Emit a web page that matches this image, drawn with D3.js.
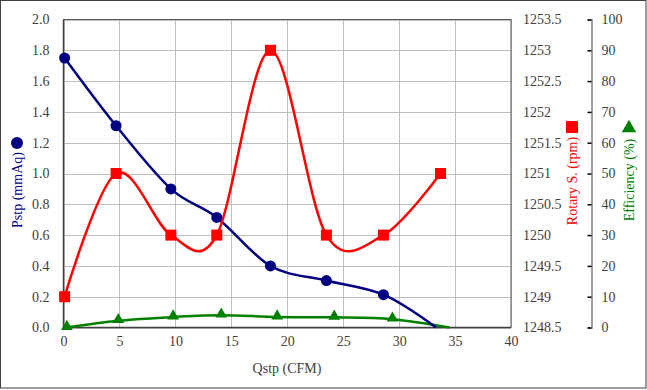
<!DOCTYPE html>
<html><head><meta charset="utf-8">
<script src="https://cdn.jsdelivr.net/npm/d3@7"></script>
<style>body{margin:0;background:#fff}svg{display:block}svg text{font-family:"Liberation Serif","Times New Roman",serif !important;font-size:14px}</style>
</head><body>
<svg id="c" width="647" height="390"></svg>
<script>
// ---- data ----
const qPstp = [0.1, 4.7, 9.6, 13.7, 18.5, 23.5, 28.6, 33.3];
const pstp  = [1.75, 1.31, 0.90, 0.715, 0.40, 0.305, 0.213, 0.0];
const pstpMarker = [true, true, true, true, true, true, true, false];

const qRot  = [0.1, 4.7, 9.6, 13.7, 18.5, 23.5, 28.6, 33.7];
const rotary = [1249, 1251, 1250, 1250, 1253, 1250, 1250, 1251];

const qEff  = [0.3, 4.9, 9.8, 14.1, 19.1, 24.2, 29.4, 34.5];
const eff   = [0.0, 2.2, 3.4, 4.0, 3.4, 3.3, 2.7, 0.0];
const effMarker = [true, true, true, true, true, true, true, false];

const xTicks = [0, 5, 10, 15, 20, 25, 30, 35, 40];
const pTicks = [0, 0.2, 0.4, 0.6, 0.8, 1.0, 1.2, 1.4, 1.6, 1.8, 2.0];
const rTicks = [1248.5, 1249, 1249.5, 1250, 1250.5, 1251, 1251.5, 1252, 1252.5, 1253, 1253.5];
const eTicks = [0, 10, 20, 30, 40, 50, 60, 70, 80, 90, 100];

// ---- layout ----
const svg = d3.select("#c");
const L = 63.5, R = 511, T = 19.5, B = 327.5;
const font = "Liberation Serif, Times New Roman, serif";
const x  = d3.scaleLinear([0, 40], [L, R]);
const yP = d3.scaleLinear([0, 2], [B, T]);
const yR = d3.scaleLinear([1248.5, 1253.5], [B, T]);
const yE = d3.scaleLinear([0, 100], [B, T]);

// outer frame
svg.append("rect").attr("x", 0.5).attr("y", 0.5).attr("width", 645.5).attr("height", 387.5)
  .attr("fill", "#fff").attr("stroke", "#404040").attr("stroke-width", 1);

// grid
const g = svg.append("g");
g.selectAll(".hg").data(pTicks).join("line")
  .attr("x1", L).attr("x2", R).attr("y1", d => Math.round(yP(d)) + 0.5).attr("y2", d => Math.round(yP(d)) + 0.5)
  .attr("stroke", "#bfbfbf").attr("stroke-width", 1);
g.selectAll(".vg").data(xTicks).join("line")
  .attr("y1", T).attr("y2", B).attr("x1", d => Math.round(x(d)) + 0.5).attr("x2", d => Math.round(x(d)) + 0.5)
  .attr("stroke", "#bfbfbf").attr("stroke-width", 1);

// plot frame
svg.append("rect").attr("x", L).attr("y", T).attr("width", R - L).attr("height", B - T)
  .attr("fill", "none").attr("stroke", "#595959").attr("stroke-width", 1);
svg.append("line").attr("x1", L).attr("x2", L).attr("y1", T).attr("y2", B).attr("stroke", "#404040").attr("stroke-width", 1.5);
svg.append("line").attr("x1", L).attr("x2", R).attr("y1", B).attr("y2", B).attr("stroke", "#404040").attr("stroke-width", 1.5);

function styleAxis(sel) {
  sel.attr("font-family", font).attr("font-size", 14);
  sel.selectAll("text").style("font-family", font).style("font-size", "14px").attr("fill", "#404040");
}

// x axis
svg.append("g").attr("transform", `translate(0,${B})`)
  .call(d3.axisBottom(x).tickValues(xTicks).tickSize(0).tickPadding(9).tickFormat(d3.format("d")))
  .call(a => a.select(".domain").remove()).call(styleAxis);

// left axis
svg.append("g").attr("transform", `translate(${L},0)`)
  .call(d3.axisLeft(yP).tickValues(pTicks).tickSize(0).tickPadding(14).tickFormat(d3.format(".1f")))
  .call(a => a.select(".domain").remove()).call(styleAxis);

// rotary axis
svg.append("g").attr("transform", `translate(${R},0)`)
  .call(d3.axisRight(yR).tickValues(rTicks).tickSize(0).tickPadding(12).tickFormat(d => String(d)))
  .call(a => a.select(".domain").remove()).call(styleAxis);

// efficiency axis
const EX = 591.5;
svg.append("g").attr("transform", `translate(${EX},0)`)
  .call(d3.axisRight(yE).tickValues(eTicks).tickSizeInner(-4).tickSizeOuter(-4).tickPadding(10).tickFormat(d3.format("d")))
  .call(a => { a.select(".domain").attr("stroke", "#808080").attr("stroke-width", 1.5);
               a.selectAll(".tick line").attr("stroke", "#000").attr("stroke-width", 1.5); })
  .call(styleAxis);

// curves
const curve = d3.curveCatmullRom.alpha(0);
const lineP = d3.line().x((d, i) => x(qPstp[i])).y(d => yP(d)).curve(curve);
const lineR = d3.line().x((d, i) => x(qRot[i])).y(d => yR(d)).curve(curve);
const lineE = d3.line().x((d, i) => x(qEff[i])).y(d => yE(d)).curve(curve);

svg.append("path").attr("d", lineE(eff)).attr("fill", "none").attr("stroke", "#008000").attr("stroke-width", 2.5);
svg.append("path").attr("d", lineP(pstp)).attr("fill", "none").attr("stroke", "#000080").attr("stroke-width", 2.5);
svg.append("path").attr("d", lineR(rotary)).attr("fill", "none").attr("stroke", "#ff0000").attr("stroke-width", 2.5);

// markers
const tri = d3.symbol().type(d3.symbolTriangle).size(60);
svg.append("g").selectAll("path").data(eff.map((v, i) => [qEff[i], v, effMarker[i]]).filter(d => d[2])).join("path")
  .attr("d", tri).attr("transform", d => `translate(${x(d[0])},${yE(d[1]) - 1})`).attr("fill", "#008000");
svg.append("g").selectAll("circle").data(pstp.map((v, i) => [qPstp[i], v, pstpMarker[i]]).filter(d => d[2])).join("circle")
  .attr("cx", d => x(d[0])).attr("cy", d => yP(d[1])).attr("r", 5.5).attr("fill", "#000080");
svg.append("g").selectAll("rect").data(rotary.map((v, i) => [qRot[i], v])).join("rect")
  .attr("x", d => x(d[0]) - 5.5).attr("y", d => yR(d[1]) - 5.5).attr("width", 11).attr("height", 11).attr("fill", "#ff0000");

// axis titles
function title(t, tr, col) {
  svg.append("text").attr("transform", tr).attr("text-anchor", "middle")
    .style("font-family", font).style("font-size", "14px").attr("fill", col).text(t);
}
title("Qstp (CFM)", "translate(287,373)", "#404040");
title("Pstp (mmAq)", "translate(22,190) rotate(-90)", "#000080");
svg.append("circle").attr("cx", 17).attr("cy", 143).attr("r", 6).attr("fill", "#000080");

title("Rotary S. (rpm)", "translate(577,181) rotate(-90)", "#ff0000");
svg.append("rect").attr("x", 566).attr("y", 121).attr("width", 12).attr("height", 12).attr("fill", "#ff0000");

title("Efficiency (%)", "translate(634,180) rotate(-90)", "#008000");
svg.append("path").attr("d", d3.symbol().type(d3.symbolTriangle).size(90))
  .attr("transform", "translate(629,128)").attr("fill", "#008000");
</script>
</body></html>
